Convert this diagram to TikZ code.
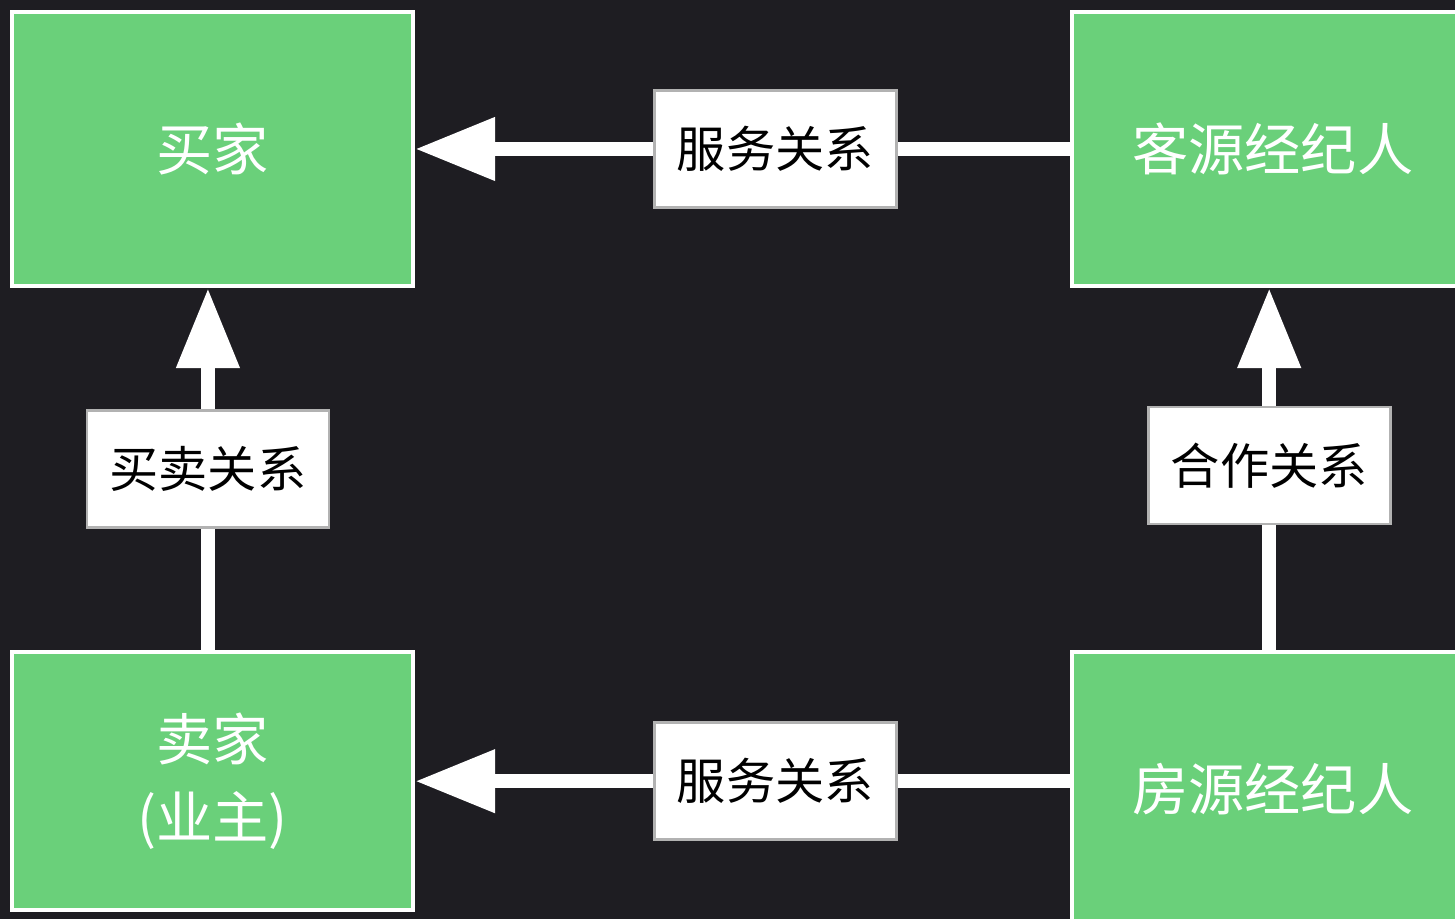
\documentclass[tikz,border=0pt]{standalone}
\usepackage{fontspec}
\setmainfont{Noto Sans CJK SC}
\usetikzlibrary{positioning,arrows.meta}
\definecolor{bgdark}{RGB}{30,29,34}
\definecolor{partygreen}{RGB}{106,208,122}

\begin{document}
\begin{tikzpicture}[
    party/.style={rectangle, fill=partygreen, draw=white, line width=1.2pt,
      minimum width=4.01cm, minimum height=2.74cm, text=white, align=center,
      font=\fontsize{16pt}{22pt}\selectfont},
    relation/.style={draw=white, line width=0.14cm,
      -{Triangle[length=0.8cm, width=0.6cm]}},
    tag/.style={rectangle, fill=white, draw=gray!60, line width=0.8pt,
      minimum width=2.42cm, minimum height=1.17cm, text=black,
      font=\fontsize{14pt}{16pt}\selectfont}
  ]
  \useasboundingbox[fill=bgdark] (0,0) rectangle (14.55,9.19);
  \node [party] (buyer) at (2.125,7.70) {买家};
  \node [party, right=6.55cm of buyer] (buyeragent) {客源经纪人};
  \node [party, below=3.62cm of buyer, minimum height=2.58cm] (seller) {卖家\\(业主)};
  \node [party, below=3.62cm of buyeragent] (selleragent) {房源经纪人};

  \draw [relation] (buyeragent.west) -- node [tag, pos=0.45] {服务关系} (buyer.east);
  \draw [relation] (seller.east -| selleragent.west) -- node [tag, pos=0.45] {服务关系} (seller.east);
  \draw [relation] ([xshift=-1.3pt]seller.north) -- node [tag] {买卖关系} ([xshift=-1.3pt]buyer.south);
  \draw [relation] ([xshift=-1pt]selleragent.north) -- node [tag, pos=0.51] {合作关系} ([xshift=-1pt]buyeragent.south);
\end{tikzpicture}
\end{document}
